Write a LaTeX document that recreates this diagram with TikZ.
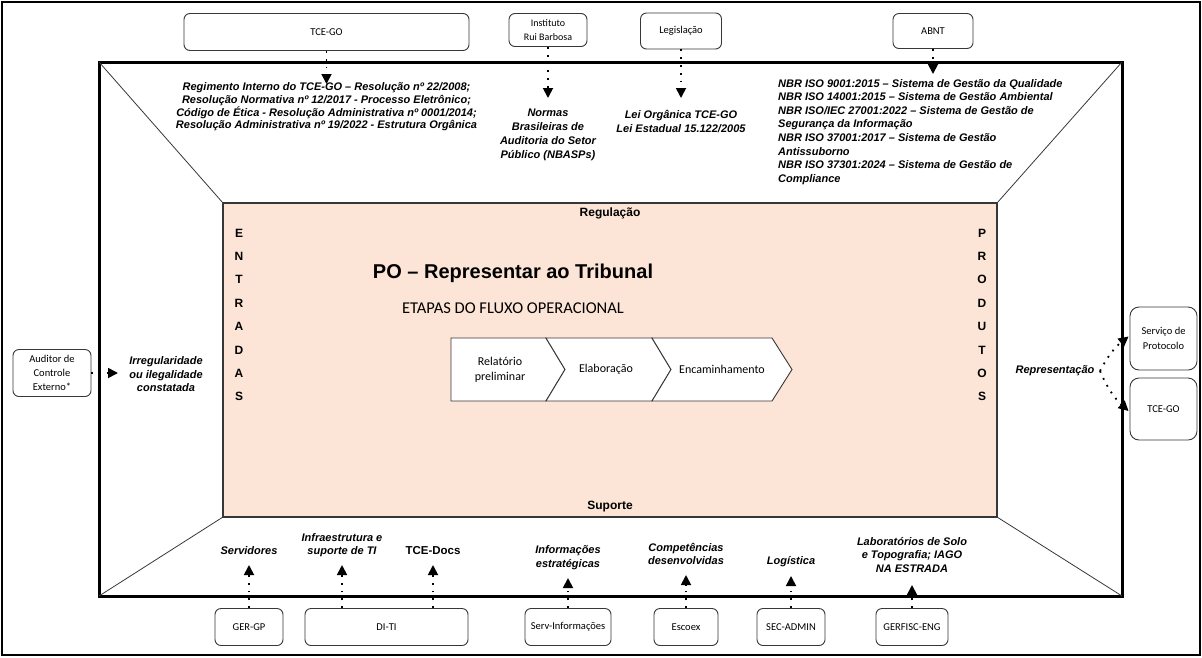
\documentclass[tikz,border=0pt]{standalone}
\usepackage{fontspec}
\setmainfont{Liberation Sans}
\newfontfamily\carl{Carlito}
\usetikzlibrary{arrows.meta}
\definecolor{pinkfill}{RGB}{252,228,214}
\definecolor{boxline}{RGB}{55,55,55}
\tikzset{
  rbox/.style={draw=boxline, line width=0.9pt, rounded corners=6pt, fill=white, align=center,
    font=\carl\fontsize{10.5}{13}\selectfont, inner sep=0pt},
  ital/.style={font=\bfseries\itshape\fontsize{11}{13.5}\selectfont, align=center, inner sep=0pt},
  boldlbl/.style={font=\bfseries\fontsize{12}{14}\selectfont, inner sep=0pt},
  dotarrow/.style={line width=1.8pt, dash pattern=on 1.8pt off 6pt, -{Triangle[width=10pt,length=10pt]}},
  chev/.style={draw=boxline, line width=0.9pt, fill=white},
  chevtxt/.style={font=\carl\fontsize{12}{15}\selectfont, align=center, inner sep=0pt},
  thinline/.style={line width=0.8pt, draw=boxline},
  vletters/.style={font=\bfseries\fontsize{12}{23.4}\selectfont, align=center, inner sep=0pt}
}
\begin{document}
\begin{tikzpicture}[x=1pt,y=-1pt]
\useasboundingbox (0,0) rectangle (1202,657);
% outer border
\draw[line width=2pt] (2,2) rectangle (1200,655);
% main frame
\coordinate (fTL) at (99,62);
\coordinate (fBR) at (1122,596);
\coordinate (pTL) at (223,203);
\coordinate (pBR) at (997,517);
\draw[line width=3pt] (fTL) rectangle (fBR);
\draw[thinline] (fTL) -- (pTL);
\draw[thinline] (fTL -| fBR) -- (pTL -| pBR);
\draw[thinline] (fTL |- fBR) -- (pTL |- pBR);
\draw[thinline] (fBR) -- (pBR);
\draw[line width=1.6pt, draw=boxline, fill=pinkfill] (pTL) rectangle (pBR);

% inner labels
\node[boldlbl] (reg) at (610,213) {Regulação};
\node[boldlbl] (sup) at (610,507) {Suporte};
\node[font=\bfseries\fontsize{20}{24}\selectfont, inner sep=0pt] (title) at (513,273) {PO -- Representar ao Tribunal};
\node[font=\carl\fontsize{16.5}{19}\selectfont, inner sep=0pt] (etapas) at (513,308) {ETAPAS DO FLUXO OPERACIONAL};
\node[vletters] (entr) at (239,315) {E\\N\\T\\R\\A\\D\\A\\S};
\node[vletters] (prod) at (982,315) {P\\R\\O\\D\\U\\T\\O\\S};

% chevrons
\draw[chev] (451,338) -- (546,338) -- (565,369.5) -- (546,401) -- (451,401) -- cycle;
\draw[chev] (546,338) -- (652,338) -- (671,369.5) -- (652,401) -- (546,401) -- (565,369.5) -- cycle;
\draw[chev] (652,338) -- (772,338) -- (792,369.5) -- (772,401) -- (652,401) -- (671,369.5) -- cycle;
\node[chevtxt] (c1) at (500,369.5) {Relatório\\preliminar};
\node[chevtxt] (c2) at (606,369.5) {Elaboração};
\node[chevtxt] (c3) at (722,369.5) {Encaminhamento};

% top boxes
\node[rbox, minimum width=285pt, minimum height=37pt] (tce) at (326.5,32) {TCE-GO};
\node[rbox, minimum width=78pt, minimum height=33pt, font=\carl\fontsize{10}{13.5}\selectfont] (irb) at (548,30) {Instituto\\Rui Barbosa};
\node[rbox, minimum width=81pt, minimum height=36pt] (leg) at (681,31) {Legislação};
\node[rbox, minimum width=80pt, minimum height=35pt] (abnt) at (933,31) {ABNT};

\coordinate (tTce) at (326.5,84);
\coordinate (tIrb) at (548,98);
\coordinate (tLeg) at (681,98);
\coordinate (tAbnt) at (933,74);
\draw[dotarrow] (tce.south) -- (tTce);
\draw[dotarrow] (irb.south) -- (tIrb);
\draw[dotarrow] (leg.south) -- (tLeg);
\draw[dotarrow] (abnt.south) -- (tAbnt);

\node[ital, font=\bfseries\itshape\fontsize{11}{12.6}\selectfont] (tceTxt) at (326.5,107) {Regimento Interno do TCE-GO -- Resolução nº 22/2008;\\Resolução Normativa nº 12/2017 - Processo Eletrônico;\\Código de Ética - Resolução Administrativa nº 0001/2014;\\Resolução Administrativa nº 19/2022 - Estrutura Orgânica};
\node[ital, font=\bfseries\itshape\fontsize{11}{14}\selectfont] (irbTxt) at (548,135) {Normas\\Brasileiras de\\Auditoria do Setor\\Público (NBASPs)};
\node[ital, font=\bfseries\itshape\fontsize{11}{14}\selectfont] (legTxt) at (681,121) {Lei Orgânica TCE-GO\\Lei Estadual 15.122/2005};
\node[ital, align=left, anchor=north west, font=\bfseries\itshape\fontsize{11}{13.6}\selectfont] (abntTxt) at (778,79) {NBR ISO 9001:2015 -- Sistema de Gestão da Qualidade\\NBR ISO 14001:2015 -- Sistema de Gestão Ambiental\\NBR ISO/IEC 27001:2022 -- Sistema de Gestão de\\Segurança da Informação\\NBR ISO 37001:2017 -- Sistema de Gestão\\Antissuborno\\NBR ISO 37301:2024 -- Sistema de Gestão de\\Compliance};

% left side
\node[rbox, minimum width=78pt, minimum height=47pt, font=\carl\fontsize{10.5}{14}\selectfont] (aud) at (52,373) {Auditor de\\Controle\\Externo*};
\coordinate (tAud) at (118,373);
\draw[dotarrow] (aud.east) -- (tAud);
\node[ital] (audTxt) at (166,374.5) {Irregularidade\\ou ilegalidade\\constatada};

% right side
\node[ital] (rep) at (1055,371) {Representação};
\node[rbox, minimum width=67pt, minimum height=63pt, rounded corners=9pt, font=\carl\fontsize{10.5}{14.5}\selectfont] (serv) at (1163.5,338.5) {Serviço de\\Protocolo};
\node[rbox, minimum width=67pt, minimum height=62pt, rounded corners=9pt] (tceR) at (1163.5,409) {TCE-GO};
\coordinate (repS) at (1100,371);
\draw[dotarrow] (repS) to[bend left=12] ([xshift=-1pt,yshift=2pt]serv.west);
\draw[dotarrow] (repS) to[bend right=12] ([xshift=-1pt,yshift=-2pt]tceR.west);

% bottom boxes
\node[rbox, minimum width=68pt, minimum height=37pt] (gergp) at (249,627) {GER-GP};
\node[rbox, minimum width=163pt, minimum height=37pt] (diti) at (386.5,627) {DI-TI};
\node[rbox, minimum width=86pt, minimum height=37pt] (servinf) at (568,627) {Serv-Informações};
\node[rbox, minimum width=64pt, minimum height=37pt] (escoex) at (686,627) {Escoex};
\node[rbox, minimum width=68pt, minimum height=37pt] (secadm) at (791,627) {SEC-ADMIN};
\node[rbox, minimum width=72pt, minimum height=37pt] (gerfisc) at (912,627) {GERFISC-ENG};

\coordinate (bServ) at (249,565);
\coordinate (bInfra) at (342,565);
\coordinate (bDocs) at (433,565);
\coordinate (bInf) at (568,578);
\coordinate (bComp) at (686,575);
\coordinate (bLog) at (791,576);
\coordinate (bLab) at (912,585);
\draw[dotarrow] (gergp.north) -- (bServ);
\draw[dotarrow] (diti.north -| bInfra) -- (bInfra);
\draw[dotarrow] (diti.north -| bDocs) -- (bDocs);
\draw[dotarrow] (servinf.north) -- (bInf);
\draw[dotarrow] (escoex.north) -- (bComp);
\draw[dotarrow] (secadm.north) -- (bLog);
\draw[dotarrow] (gerfisc.north) -- (bLab);

\node[ital] (servTxt) at (249,551) {Servidores};
\node[ital] (infraTxt) at (342,545) {Infraestrutura e\\suporte de TI};
\node[boldlbl, font=\bfseries\fontsize{11.5}{13}\selectfont] (docsTxt) at (433,551) {TCE-Docs};
\node[ital] (infTxt) at (568,557.5) {Informações\\estratégicas};
\node[ital] (compTxt) at (686,554) {Competências\\desenvolvidas};
\node[ital] (logTxt) at (791,562) {Logística};
\node[ital] (labTxt) at (912,555) {Laboratórios de Solo\\e Topografia; IAGO\\NA ESTRADA};
\end{tikzpicture}
\end{document}
